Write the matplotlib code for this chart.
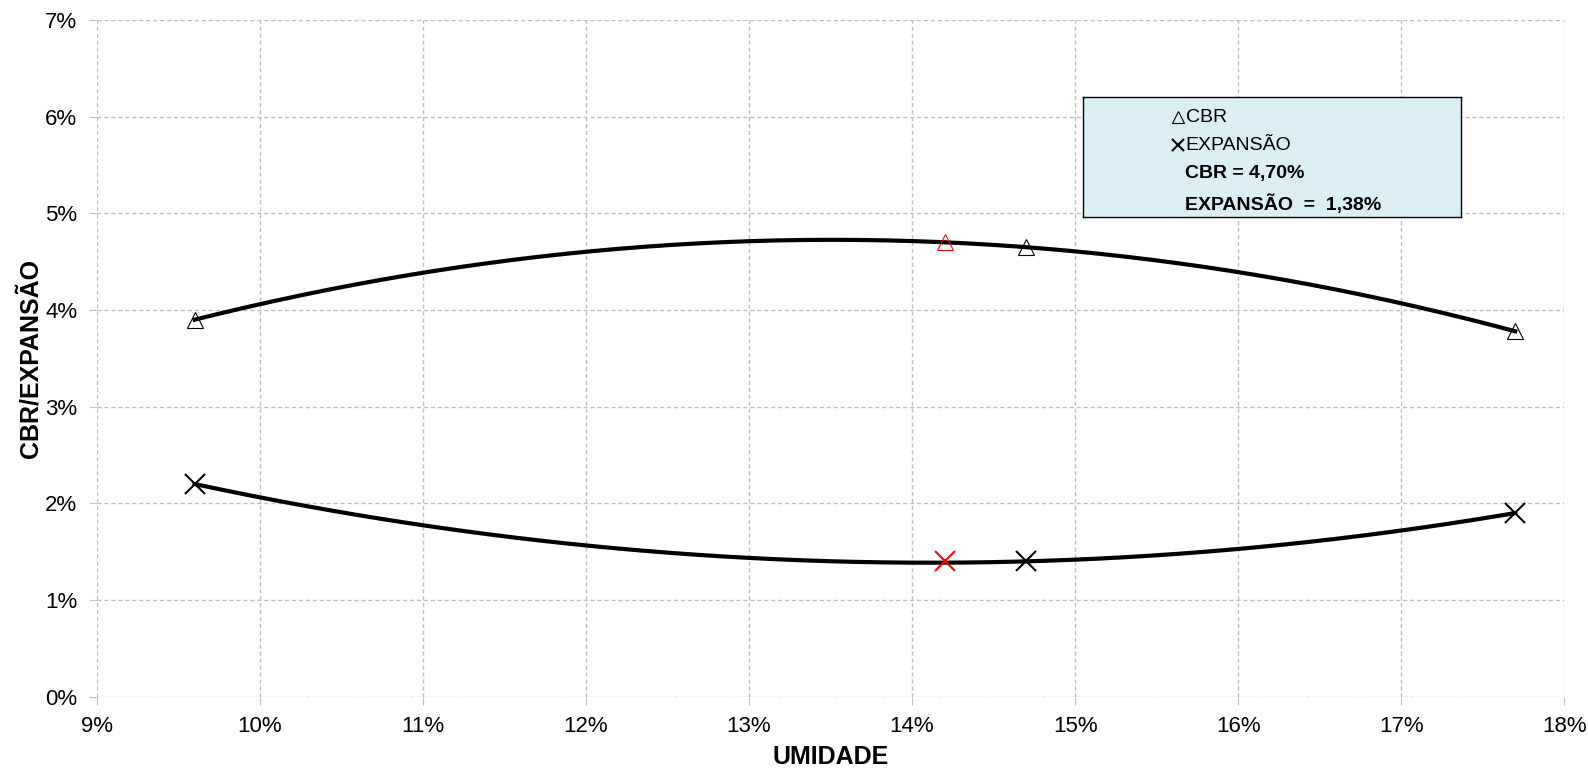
import numpy as np
import matplotlib.pyplot as plt
from matplotlib.ticker import FuncFormatter

plt.rcParams['font.family'] = ['Liberation Sans', 'DejaVu Sans']

# dados do ensaio (umidade %, CBR %, expansao %)
umidade = [9.6, 14.7, 17.7]
cbr = [3.9, 4.65, 3.78]
expansao = [2.2, 1.4, 1.9]
# ponto otimo (vermelho)
umid_otima = 14.2
cbr_otimo = 4.70
exp_otima = 1.40

fig = plt.figure(figsize=(15.88, 7.69), dpi=100)
ax = fig.add_axes([0.061, 0.094, 0.924, 0.88])

# curvas de ajuste (polinomio grau 2)
xs = np.linspace(min(umidade), max(umidade), 200)
p_cbr = np.polyfit(umidade, cbr, 2)
p_exp = np.polyfit(umidade, expansao, 2)
ax.plot(xs, np.polyval(p_cbr, xs), color='black', lw=3, zorder=2)
ax.plot(xs, np.polyval(p_exp, xs), color='black', lw=3, zorder=2)

ax.plot(umidade, cbr, ls='none', marker='^', ms=11, mfc='none', mec='black', mew=0.8, zorder=3)
ax.plot(umidade, expansao, ls='none', marker='x', ms=15, color='black', mew=1.5, zorder=3)
ax.plot([umid_otima], [cbr_otimo], ls='none', marker='^', ms=11, mfc='none', mec='red', mew=0.8, zorder=3)
ax.plot([umid_otima], [exp_otima], ls='none', marker='x', ms=15, color='red', mew=1.5, zorder=3)

ax.set_xlim(9, 18)
ax.set_ylim(0, 7)
ax.set_xticks(np.arange(9, 19, 1))
ax.set_yticks(np.arange(0, 8, 1))
ax.xaxis.set_major_formatter(FuncFormatter(lambda v, p: '%d%%' % round(v)))
ax.yaxis.set_major_formatter(FuncFormatter(lambda v, p: '%d%%' % round(v)))
ax.grid(True, ls=(0, (3, 2)), color='#c0c0c0', lw=1)
for s in ax.spines.values():
    s.set_visible(False)
ax.tick_params(axis='both', labelsize=16, length=6, color='#c0c0c0', pad=8)
ax.set_xlabel('UMIDADE', fontsize=18, fontweight='bold', labelpad=6)
ax.set_ylabel('CBR/EXPANSÃO', fontsize=18, fontweight='bold', labelpad=2)

# caixa da legenda
box = fig.add_axes([1083 / 1588, 1 - 217 / 769, 378 / 1588, 120 / 769])
box.set_facecolor('#daeef3')
box.set_xticks([])
box.set_yticks([])
for s in box.spines.values():
    s.set_color('black')
    s.set_linewidth(1)
box.set_xlim(0, 1)
box.set_ylim(0, 1)
box.plot([0.25], [0.83], marker='^', ms=8, mfc='none', mec='black', mew=0.8, ls='none')
box.text(0.272, 0.83, 'CBR', fontsize=14, va='center')
box.plot([0.25], [0.60], marker='x', ms=9, color='black', mew=1.5, ls='none')
box.text(0.272, 0.60, 'EXPANSÃO', fontsize=14, va='center')
box.text(0.27, 0.36, 'CBR = 4,70%', fontsize=14, fontweight='bold', va='center')
box.text(0.27, 0.11, 'EXPANSÃO  =  1,38%', fontsize=14, fontweight='bold', va='center')

fig.savefig('out.png', dpi=100)
